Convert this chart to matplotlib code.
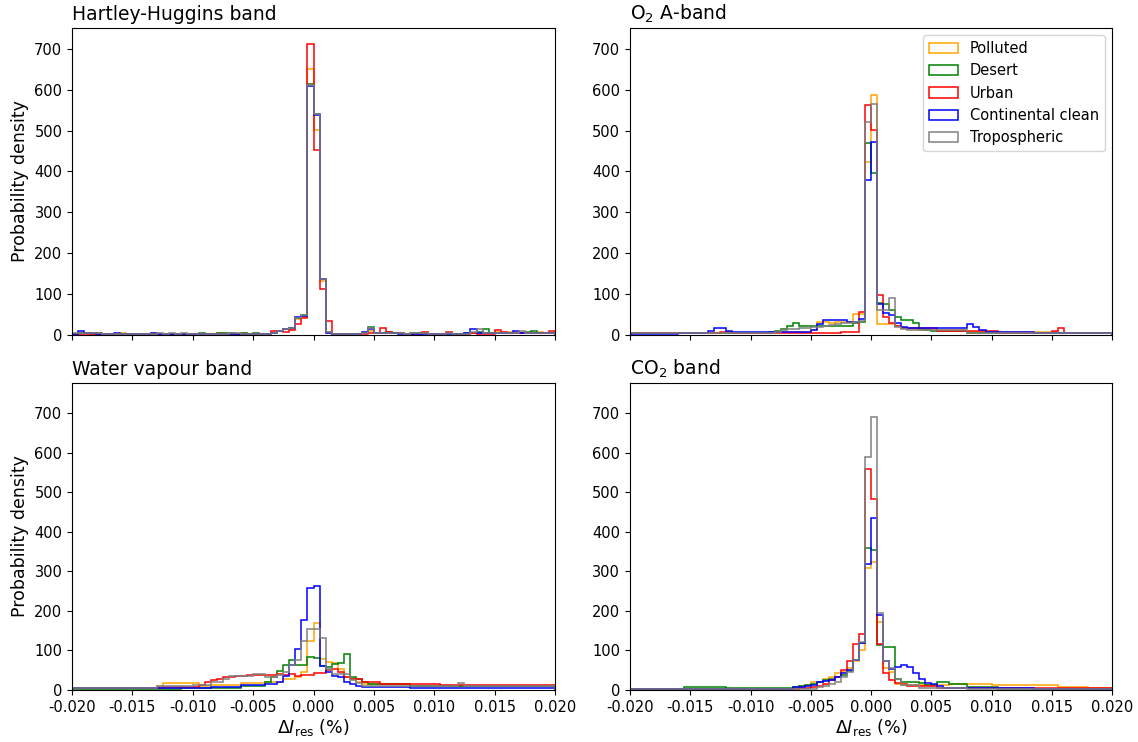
import numpy as np
import matplotlib
matplotlib.use("Agg")
import matplotlib.pyplot as plt

# bin edges: 80 bins of 0.0005 between -0.02 and 0.02
edges = np.linspace(-0.02, 0.02, 81)
centers = 0.5 * (edges[:-1] + edges[1:])

labels = ["Polluted", "Desert", "Urban", "Continental clean", "Tropospheric"]
colors = ["orange", "green", "red", "blue", "grey"]
titles = ["Hartley-Huggins band", "O$_2$ A-band", "Water vapour band", "CO$_2$ band"]

# ---- Hartley-Huggins band ----
hh_polluted = [3, 5, 4, 5, 4, 3, 3, 3, 4, 3, 3, 2, 3, 4, 3, 3, 3, 2, 3, 3,
               3, 3, 3, 3, 4, 3, 4, 3, 4, 3, 3, 3, 2, 4, 10, 14, 15, 40, 45, 650,
               501, 132, 6, 3, 2, 2, 2, 2, 5, 10, 4, 6, 8, 6, 4, 3, 5, 4, 4, 3,
               3, 3, 4, 3, 3, 3, 6, 6, 6, 4, 7, 5, 8, 6, 5, 5, 6, 8, 6, 5]
hh_desert = [3, 4, 4, 3, 4, 3, 3, 3, 3, 3, 3, 2, 3, 3, 3, 3, 3, 3, 3, 3,
             3, 4, 3, 3, 4, 4, 4, 3, 4, 3, 4, 3, 3, 4, 10, 14, 17, 42, 48, 615,
             541, 136, 8, 3, 2, 2, 2, 2, 4, 19, 5, 5, 7, 5, 4, 3, 4, 4, 4, 3,
             3, 3, 4, 3, 3, 4, 6, 8, 15, 4, 5, 5, 5, 5, 6, 8, 11, 6, 5, 5]
hh_urban = [2, 3, 3, 3, 3, 2, 2, 3, 3, 2, 2, 2, 3, 3, 2, 3, 3, 3, 2, 3,
            3, 3, 3, 2, 3, 3, 3, 3, 3, 3, 3, 2, 2, 11, 11, 8, 12, 28, 42, 711,
            452, 112, 35, 3, 2, 2, 2, 2, 2, 4, 5, 16, 7, 4, 4, 3, 3, 3, 7, 3,
            3, 3, 7, 3, 3, 3, 4, 3, 3, 3, 12, 8, 5, 4, 4, 4, 4, 4, 4, 11]
hh_continental = [3, 10, 4, 4, 3, 3, 3, 4, 3, 3, 3, 3, 3, 5, 3, 3, 3, 3, 3, 3,
                  3, 3, 3, 3, 3, 3, 3, 3, 3, 3, 3, 3, 3, 4, 10, 15, 17, 44, 46, 610,
                  538, 138, 5, 3, 2, 2, 2, 2, 7, 15, 4, 4, 5, 4, 3, 3, 3, 3, 3, 3,
                  3, 3, 3, 3, 3, 4, 14, 6, 4, 4, 4, 4, 5, 11, 4, 5, 5, 4, 4, 4]
hh_tropospheric = [4, 5, 4, 4, 4, 3, 3, 3, 3, 3, 3, 3, 3, 3, 4, 3, 4, 3, 4, 3,
                   3, 3, 3, 3, 3, 3, 4, 4, 3, 3, 3, 3, 3, 4, 10, 14, 16, 42, 48, 612,
                   541, 138, 7, 3, 2, 2, 2, 2, 4, 17, 5, 5, 6, 5, 4, 3, 4, 4, 4, 3,
                   3, 3, 4, 3, 3, 3, 8, 15, 6, 4, 5, 5, 5, 5, 11, 6, 5, 5, 5, 5]

# ---- O2 A-band ----
o2_polluted = [4, 4, 4, 4, 4, 4, 4, 4, 4, 4, 4, 4, 4, 4, 4, 4, 4, 5, 5, 5,
               5, 5, 6, 6, 8, 8, 8, 8, 8, 8, 12, 33, 33, 30, 31, 31, 31, 52, 52, 424,
               587, 26, 26, 27, 22, 18, 15, 14, 12, 12, 12, 12, 12, 12, 12, 12, 8, 8, 8, 8,
               8, 8, 8, 8, 8, 8, 8, 8, 8, 8, 8, 5, 5, 5, 5, 5, 5, 6, 6, 6]
o2_desert = [4, 4, 4, 4, 4, 4, 4, 4, 4, 4, 4, 4, 4, 4, 4, 4, 4, 5, 5, 5,
             5, 6, 6, 8, 11, 14, 21, 29, 22, 22, 22, 22, 21, 21, 22, 22, 22, 29, 32, 470,
             397, 79, 75, 62, 44, 37, 37, 29, 14, 12, 10, 10, 10, 10, 10, 10, 6, 5, 5, 5,
             5, 5, 5, 5, 5, 5, 5, 5, 5, 5, 5, 5, 5, 5, 5, 4, 4, 4, 4, 4]
o2_urban = [4, 4, 4, 4, 5, 4, 4, 4, 4, 4, 4, 4, 4, 4, 4, 7, 7, 5, 5, 4,
            4, 4, 4, 4, 4, 4, 4, 4, 4, 4, 4, 5, 5, 5, 6, 7, 7, 8, 57, 562,
            501, 98, 45, 30, 22, 16, 16, 16, 16, 16, 16, 10, 10, 10, 10, 10, 10, 10, 10, 10,
            10, 6, 6, 6, 6, 6, 6, 6, 6, 6, 10, 18, 4, 4, 4, 4, 4, 4, 4, 4]
o2_continental = [3, 3, 3, 3, 3, 3, 3, 3, 4, 4, 4, 5, 6, 10, 17, 18, 10, 8, 8, 8,
                  8, 8, 8, 8, 8, 8, 8, 8, 8, 8, 12, 28, 36, 36, 36, 36, 33, 33, 39, 379,
                  473, 76, 54, 50, 30, 20, 16, 16, 16, 16, 16, 16, 16, 16, 17, 18, 27, 20, 12, 8,
                  8, 8, 8, 7, 7, 7, 7, 6, 6, 6, 6, 6, 6, 6, 5, 5, 5, 5, 5, 5]
o2_tropospheric = [4, 4, 4, 4, 4, 4, 4, 4, 4, 4, 4, 4, 4, 4, 4, 4, 4, 4, 4, 4,
                   4, 4, 5, 6, 8, 12, 14, 15, 16, 17, 19, 20, 22, 25, 27, 29, 29, 33, 35, 522,
                   565, 62, 62, 90, 20, 15, 12, 12, 12, 12, 12, 12, 12, 12, 12, 12, 6, 6, 6, 6,
                   6, 6, 6, 6, 6, 6, 6, 6, 6, 6, 6, 6, 6, 6, 6, 6, 6, 6, 6, 6]

# ---- Water vapour band ----
wv_polluted = [4, 4, 4, 4, 4, 4, 4, 4, 4, 4, 4, 4, 4, 4, 10, 18, 18, 18, 18, 18,
               18, 10, 10, 12, 12, 12, 12, 12, 18, 18, 18, 18, 21, 21, 21, 29, 29, 33, 46, 125,
               169, 79, 71, 67, 52, 33, 29, 21, 15, 15, 15, 15, 15, 15, 15, 15, 10, 10, 10, 10,
               10, 10, 10, 10, 10, 10, 10, 10, 10, 10, 10, 10, 10, 10, 10, 10, 10, 10, 10, 10]
wv_desert = [3, 3, 3, 3, 3, 3, 3, 3, 3, 3, 3, 3, 3, 3, 3, 3, 3, 3, 6, 6,
             6, 6, 6, 6, 6, 6, 6, 6, 10, 10, 10, 10, 21, 33, 47, 62, 75, 62, 62, 83,
             80, 60, 57, 65, 68, 92, 33, 27, 20, 14, 14, 14, 14, 14, 14, 14, 10, 10, 10, 10,
             10, 10, 10, 10, 10, 10, 10, 10, 10, 10, 10, 10, 10, 10, 10, 10, 10, 10, 10, 10]
wv_urban = [5, 5, 5, 5, 5, 6, 6, 6, 6, 6, 6, 6, 6, 6, 6, 8, 8, 8, 8, 8,
            8, 12, 21, 25, 29, 33, 33, 36, 36, 38, 38, 38, 38, 38, 40, 37, 40, 36, 39, 37,
            42, 44, 50, 54, 46, 33, 29, 27, 21, 21, 21, 16, 16, 16, 16, 16, 16, 16, 16, 16,
            16, 12, 12, 12, 12, 12, 12, 12, 12, 12, 12, 12, 12, 12, 12, 12, 12, 12, 12, 12]
wv_continental = [4, 4, 4, 4, 4, 4, 4, 4, 4, 4, 4, 4, 4, 4, 4, 4, 5, 5, 5, 5,
                  5, 5, 5, 8, 8, 8, 8, 8, 12, 12, 12, 12, 15, 15, 21, 35, 62, 104, 177, 258,
                  263, 61, 46, 35, 33, 20, 14, 10, 7, 7, 7, 7, 7, 7, 7, 7, 6, 6, 6, 6,
                  6, 6, 6, 6, 6, 6, 6, 6, 6, 6, 6, 5, 5, 5, 5, 5, 5, 5, 5, 5]
wv_tropospheric = [6, 6, 6, 6, 6, 6, 6, 6, 6, 6, 6, 6, 6, 6, 10, 10, 10, 10, 10, 10,
                   12, 12, 12, 21, 21, 29, 35, 35, 35, 35, 41, 41, 33, 33, 37, 46, 62, 75, 125, 154,
                   154, 132, 54, 40, 40, 40, 25, 17, 10, 10, 10, 10, 10, 10, 10, 10, 10, 10, 10, 10,
                   10, 10, 10, 10, 17, 10, 10, 10, 10, 10, 10, 10, 10, 10, 10, 10, 10, 10, 10, 10]

# ---- CO2 band ----
co2_polluted = [3, 3, 3, 3, 3, 3, 3, 3, 3, 3, 3, 3, 3, 3, 3, 3, 3, 3, 3, 3,
                3, 3, 3, 3, 3, 3, 3, 8, 10, 13, 19, 21, 28, 34, 44, 46, 55, 74, 101, 309,
                324, 172, 55, 45, 15, 12, 12, 12, 12, 12, 13, 13, 13, 15, 15, 15, 15, 15, 15, 15,
                13, 13, 13, 13, 13, 13, 13, 13, 13, 13, 13, 8, 8, 8, 8, 8, 4, 4, 4, 4]
co2_desert = [3, 3, 3, 3, 3, 3, 3, 3, 3, 7, 7, 7, 7, 7, 7, 7, 4, 4, 4, 4,
              4, 4, 4, 4, 4, 4, 6, 8, 10, 13, 15, 19, 24, 29, 34, 38, 48, 76, 118, 360,
              354, 114, 109, 109, 29, 19, 19, 19, 17, 12, 12, 21, 21, 15, 15, 15, 8, 8, 8, 8,
              8, 3, 3, 3, 3, 3, 3, 3, 3, 3, 3, 3, 3, 3, 3, 3, 3, 3, 3, 3]
co2_urban = [3, 3, 3, 3, 3, 3, 3, 3, 3, 3, 3, 3, 3, 3, 3, 3, 3, 3, 3, 3,
             3, 3, 3, 3, 3, 3, 3, 3, 4, 4, 7, 10, 15, 24, 34, 51, 72, 115, 141, 558,
             483, 116, 42, 25, 17, 15, 10, 10, 10, 10, 10, 5, 5, 5, 5, 5, 5, 5, 5, 5,
             5, 5, 5, 5, 5, 5, 5, 5, 5, 5, 5, 5, 5, 5, 5, 5, 5, 5, 5, 5]
co2_continental = [3, 3, 3, 3, 3, 3, 3, 3, 3, 3, 3, 3, 3, 3, 3, 3, 3, 3, 3, 3,
                   3, 3, 3, 3, 3, 3, 3, 7, 7, 11, 13, 21, 23, 25, 34, 44, 51, 76, 120, 318,
                   435, 190, 74, 52, 59, 63, 57, 42, 29, 17, 15, 10, 6, 6, 6, 5, 5, 5, 5, 4,
                   4, 4, 4, 4, 4, 4, 4, 3, 3, 3, 3, 3, 3, 3, 3, 3, 3, 3, 3, 3]
co2_tropospheric = [2, 2, 2, 2, 2, 2, 2, 2, 2, 2, 2, 2, 2, 2, 2, 2, 2, 2, 2, 2,
                    2, 2, 2, 2, 2, 2, 2, 2, 3, 3, 3, 7, 10, 15, 21, 34, 46, 76, 122, 590,
                    690, 195, 72, 55, 29, 13, 13, 13, 5, 5, 5, 5, 4, 4, 4, 4, 3, 3, 3, 3,
                    3, 3, 3, 3, 2, 2, 2, 2, 2, 2, 2, 2, 2, 2, 2, 2, 2, 2, 2, 2]

panels = [
    [hh_polluted, hh_desert, hh_urban, hh_continental, hh_tropospheric],
    [o2_polluted, o2_desert, o2_urban, o2_continental, o2_tropospheric],
    [wv_polluted, wv_desert, wv_urban, wv_continental, wv_tropospheric],
    [co2_polluted, co2_desert, co2_urban, co2_continental, co2_tropospheric],
]
ylims = [751, 751, 776, 776]

fig = plt.figure(figsize=(11.38, 7.42), dpi=100)
boxes = [
    [0.0633, 0.5485, 0.4244, 0.4138],
    [0.5536, 0.5485, 0.4236, 0.4138],
    [0.0633, 0.0701, 0.4244, 0.4138],
    [0.5536, 0.0701, 0.4236, 0.4138],
]

for k, box in enumerate(boxes):
    ax = fig.add_axes(box)
    for series, c, lab in zip(panels[k], colors, labels):
        ax.hist(centers, bins=edges, weights=series, histtype="step",
                color=c, lw=1.1, label=lab)
    ax.set_xlim(-0.02, 0.02)
    ax.set_ylim(0, ylims[k])
    ax.set_xticks(np.arange(-0.02, 0.0201, 0.005))
    ax.set_yticks(np.arange(0, 701, 100))
    ax.tick_params(labelsize=10.5)
    ax.set_title(titles[k], loc="left", fontsize=13.5)
    if k < 2:
        ax.set_xticklabels([])
    else:
        ax.set_xticklabels(["%.3f" % v for v in np.arange(-0.02, 0.0201, 0.005)])
        ax.set_xlabel(r"$\Delta I_{\rm res}$ (%)", fontsize=12.5, labelpad=2)
    if k % 2 == 0:
        ax.set_ylabel("Probability density", fontsize=12.5)
    if k == 1:
        ax.legend(loc="upper right", fontsize=10.5)

fig.savefig("out.png", dpi=100)
